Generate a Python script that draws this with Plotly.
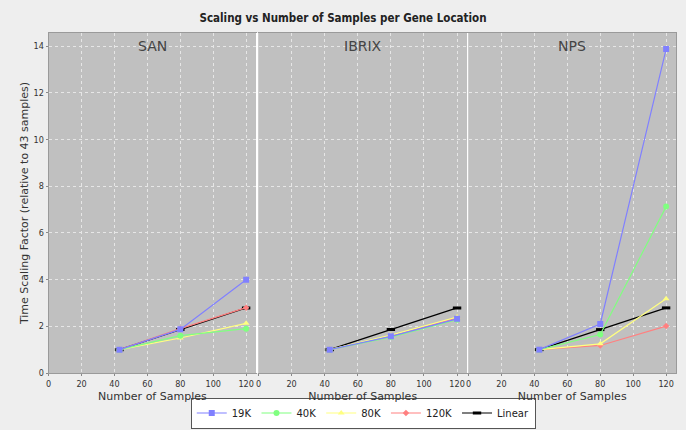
import plotly.graph_objects as go

samples = [43, 80, 120]
panels = ["SAN", "IBRIX", "NPS"]
series_names = ["19K", "40K", "80K", "120K", "Linear"]
values = {
    "SAN": {
        "19K": [1.0, 1.87, 4.0],
        "40K": [1.0, 1.6, 1.9],
        "80K": [1.0, 1.5, 2.13],
        "120K": [1.0, 1.9, 2.8],
        "Linear": [1.0, 1.86, 2.79],
    },
    "IBRIX": {
        "19K": [1.0, 1.57, 2.32],
        "40K": [1.0, 1.54, 2.28],
        "80K": [1.0, 1.62, 2.4],
        "120K": [1.0, 1.58, 2.35],
        "Linear": [1.0, 1.86, 2.79],
    },
    "NPS": {
        "19K": [1.0, 2.1, 13.88],
        "40K": [1.0, 1.65, 7.13],
        "80K": [1.0, 1.25, 3.18],
        "120K": [1.0, 1.18, 2.01],
        "Linear": [1.0, 1.86, 2.79],
    },
}
x_ticks = [0, 20, 40, 60, 80, 100, 120]
y_ticks = [0, 2, 4, 6, 8, 10, 12, 14]

colors = {"19K": "#8080ff", "40K": "#80ff80", "80K": "#ffff80", "120K": "#ff8080", "Linear": "#000000"}
symbols = {"19K": "square", "40K": "circle", "80K": "triangle-up", "120K": "diamond", "Linear": "line-ew"}
msizes = {"19K": 6, "40K": 6, "80K": 6, "120K": 5, "Linear": 6}

W, H = 686, 430
L, R, T, B = 48, 10, 33, 57
plot_w = W - L - R
plot_h = H - T - B
px_edges = [(48.7, 256), (258.5, 467), (468.5, 676)]
domains = [((a - L) / plot_w, (b - L) / plot_w) for a, b in px_edges]

FONT = "DejaVu Sans Condensed, DejaVu Sans, sans-serif"
fig = go.Figure()

for i, p in enumerate(panels):
    xa = "x" if i == 0 else f"x{i+1}"
    ya = "y" if i == 0 else f"y{i+1}"
    # draw in reverse so the first series ends up on top (as in the original)
    for k in reversed(range(len(series_names))):
        s = series_names[k]
        fig.add_trace(go.Scatter(
            x=samples, y=values[p][s], mode="lines+markers", name=s,
            xaxis=xa, yaxis=ya, legendgroup=s, showlegend=(i == 0), legendrank=k + 1,
            line=dict(color=colors[s], width=1.2),
            marker=dict(symbol=symbols[s], size=msizes[s], color=colors[s],
                        line=dict(color=colors[s], width=3 if s == "Linear" else 0)),
        ))

layout = dict(
    width=W, height=H,
    margin=dict(l=L, r=R, t=T, b=B, autoexpand=False),
    paper_bgcolor="#eeeeee", plot_bgcolor="#c0c0c0",
    font=dict(family=FONT, size=10, color="#444444"),
    title=dict(text="<b>Scaling vs Number of Samples per Gene Location</b>", x=0.5, xanchor="center",
               y=1 - 18 / H, yanchor="middle", font=dict(size=11.5, color="#222222", family=FONT)),
    legend=dict(orientation="h", x=0.502, xanchor="center", y=-(413 - 373) / plot_h, yanchor="middle",
                bgcolor="#ffffff", bordercolor="#555555", borderwidth=1,
                font=dict(size=10, color="#222222", family="DejaVu Sans, sans-serif"),
                itemwidth=30, tracegroupgap=0, traceorder="normal"),
    showlegend=True,
)

for i, p in enumerate(panels):
    xk = "xaxis" if i == 0 else f"xaxis{i+1}"
    yk = "yaxis" if i == 0 else f"yaxis{i+1}"
    ya = "y" if i == 0 else f"y{i+1}"
    xa = "x" if i == 0 else f"x{i+1}"
    layout[xk] = dict(
        domain=list(domains[i]), anchor=ya, range=[0, 126], tickvals=x_ticks,
        showgrid=True, gridcolor="#e6e6e6", griddash="dot", gridwidth=1,
        zeroline=False, showline=True, linecolor="#9a9a9a", mirror=True,
        ticks="outside", ticklen=2, tickcolor="#888888",
        tickfont=dict(size=9, color="#333333", family=FONT),
        title=dict(text="Number of Samples", standoff=4, font=dict(size=11, color="#333333", family="DejaVu Sans, sans-serif")),
    )
    layout[yk] = dict(
        domain=[0, 1], anchor=xa, range=[0, 14.57], tickvals=y_ticks,
        showgrid=True, gridcolor="#e6e6e6", griddash="dot", gridwidth=1,
        zeroline=False, showline=True, linecolor="#9a9a9a", mirror=True,
        ticks="outside" if i == 0 else "", ticklen=2, tickcolor="#888888",
        showticklabels=(i == 0),
        tickfont=dict(size=9, color="#333333", family=FONT),
    )
    if i == 0:
        layout[yk]["title"] = dict(text="Time Scaling Factor (relative to 43 samples)", standoff=2,
                                   font=dict(size=11, color="#333333", family="DejaVu Sans, sans-serif"))
    else:
        layout[yk]["matches"] = "y"

fig.update_layout(**layout)

# panel labels
for i, p in enumerate(panels):
    d0, d1 = domains[i]
    fig.add_annotation(text=p, xref="paper", yref="paper", x=(d0 + d1) / 2, y=1 - 13 / plot_h,
                       xanchor="center", yanchor="middle", showarrow=False,
                       font=dict(size=14, color="#444444", family="DejaVu Sans, sans-serif"))

# white separators between panels
for a, b in [(256, 258.5), (467, 468.5)]:
    fig.add_shape(type="rect", xref="paper", yref="paper",
                  x0=(a - L) / plot_w, x1=(b - L) / plot_w, y0=0, y1=1,
                  fillcolor="#ffffff", line=dict(width=0), layer="above")

fig.write_html("out.html")
